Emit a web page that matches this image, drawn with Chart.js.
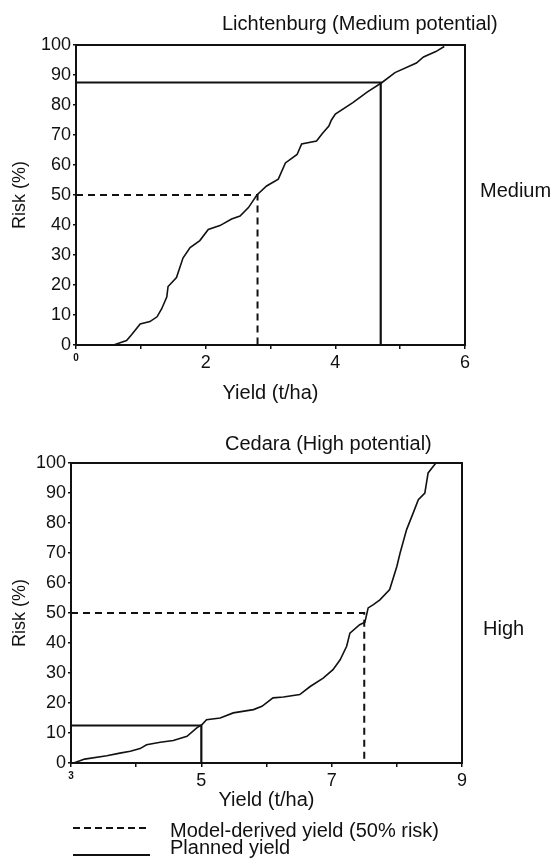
<!DOCTYPE html>
<html>
<head>
<meta charset="utf-8">
<script src="https://cdn.jsdelivr.net/npm/chart.js@4.4.1/dist/chart.umd.min.js"></script>
<style>
  html, body { margin: 0; padding: 0; background: #fff; }
  body { width: 555px; height: 863px; position: relative; overflow: hidden;
         font-family: 'Liberation Sans', Arial, Helvetica, sans-serif; color: #111; }
  canvas { position: absolute; left: 0; }
  .lbl { position: absolute; font-size: 20px; line-height: 24px; white-space: nowrap; color: #111; }
  svg { position: absolute; left: 0; top: 0; }
</style>
</head>
<body>
<canvas id="c1" width="555" height="410" style="top:0px"></canvas>
<canvas id="c2" width="555" height="400" style="top:420px"></canvas>

<div class="lbl" style="left:222px; top:11px;">Lichtenburg (Medium potential)</div>
<div class="lbl" style="left:480px; top:178px;">Medium</div>
<div class="lbl" style="left:225px; top:431px;">Cedara (High potential)</div>
<div class="lbl" style="left:483px; top:616px;">High</div>

<svg width="555" height="863">
  <line x1="73" y1="828" x2="150" y2="828" stroke="#111" stroke-width="2" stroke-dasharray="7 4"></line>
  <line x1="73" y1="855" x2="150" y2="855" stroke="#111" stroke-width="2"></line>
</svg>
<div class="lbl" style="left:170px; top:818px;">Model-derived yield (50% risk)</div>
<div class="lbl" style="left:170px; top:835px;">Planned yield</div>

<script>
// ---------------- DATA ----------------
// Lichtenburg (Medium potential): cumulative risk curve
const licYield = [0.58,0.78,0.86,0.99,1.14,1.25,1.32,1.40,1.42,1.55,1.65,1.76,1.91,2.04,2.22,2.40,2.53,2.66,2.79,2.94,3.12,3.23,3.41,3.48,3.71,3.80,3.90,3.94,4.00,4.27,4.49,4.72,4.92,5.25,5.36,5.55,5.68];
const licRisk  = [0,1.5,3.5,7,7.8,9.4,12,16,19.5,22.5,29,32.5,34.8,38.5,39.8,42,43,45.8,50,53,55.3,60.7,63.5,67,68,70.5,73,75,77,80.8,84.3,87.5,90.8,94,96,97.8,99.5];
const licPlannedX = [0, 4.7, 4.7];
const licPlannedY = [87.5, 87.5, 0];
const licModelX = [0, 2.8, 2.8];
const licModelY = [50, 50, 0];
const licXTicks = [0, 2, 4, 6];

// Cedara (High potential): cumulative risk curve
const cedYield = [3.04,3.21,3.55,3.75,3.91,4.06,4.16,4.37,4.57,4.78,4.93,5.01,5.08,5.29,5.49,5.80,5.93,6.10,6.26,6.51,6.67,6.87,7.02,7.13,7.23,7.28,7.43,7.51,7.56,7.64,7.74,7.89,8.00,8.05,8.15,8.25,8.33,8.43,8.48,8.56,8.60];
const cedRisk  = [0,1.3,2.4,3.3,3.9,4.8,6.1,6.9,7.5,8.9,11.7,12.8,14.4,15,16.7,17.8,18.9,21.7,22,22.8,25.5,28.3,31.1,34.4,38.9,43.3,46.1,46.9,51.7,52.8,54.4,57.8,65.5,70,77.8,83.3,87.8,90,96.7,98.9,100];
const cedPlannedX = [3, 5, 5];
const cedPlannedY = [12.5, 12.5, 0];
const cedModelX = [3, 7.5, 7.5];
const cedModelY = [50, 50, 0];
const cedXTicks = [3, 5, 7, 9];

const riskTicks = [0,10,20,30,40,50,60,70,80,90,100];
const yTitle = 'Risk (%)';
const xTitle = 'Yield (t/ha)';

// ---------------- CHARTS ----------------
Chart.defaults.font.family = "'Liberation Sans', Arial, Helvetica, sans-serif";
Chart.defaults.color = '#111';

const INK = '#111';
const pts = (xs, ys) => xs.map((x, i) => ({x: x, y: ys[i]}));

function makeChart(id, o) {
  const ctx = document.getElementById(id).getContext('2d');
  return new Chart(ctx, {
    type: 'line',
    data: {
      datasets: [
        { data: pts(o.curveX, o.curveY), borderColor: INK, borderWidth: 1.6, pointRadius: 0, tension: 0, xAxisID: 'x', yAxisID: 'y' },
        { data: pts(o.planX, o.planY), borderColor: INK, borderWidth: 2.2, pointRadius: 0, tension: 0, xAxisID: 'x', yAxisID: 'y' },
        { data: pts(o.modX, o.modY), borderColor: INK, borderWidth: 2, borderDash: [7, 5], pointRadius: 0, tension: 0, xAxisID: 'x', yAxisID: 'y' }
      ]
    },
    options: {
      responsive: false,
      animation: false,
      events: [],
      layout: { padding: { left: 0, top: o.padTop, right: o.padRight, bottom: o.padBottom } },
      plugins: { legend: { display: false }, tooltip: { enabled: false }, title: { display: false } },
      scales: {
        x: {
          type: 'linear', position: 'bottom', min: o.xMin, max: o.xMax,
          afterFit: (s) => { s.height = o.xHeight; },
          grid: { display: true, drawOnChartArea: false, drawTicks: true, tickLength: 4, color: INK, lineWidth: 1.5 },
          border: { display: true, color: INK, width: 2 },
          ticks: {
            stepSize: 1, autoSkip: false, maxRotation: 0, padding: 3, color: INK,
            callback: (v) => o.xTicks.includes(v) ? String(v) : '',
            font: (c) => (c.tick && c.tick.value === o.xMin) ? { size: 10, weight: 'bold' } : { size: 18 }
          },
          title: { display: true, text: xTitle, font: { size: 20 }, color: INK, padding: { top: 0, bottom: 0 } }
        },
        y: {
          type: 'linear', position: 'left', min: 0, max: 100,
          afterFit: (s) => { s.width = o.yWidth; },
          grid: { display: true, drawOnChartArea: false, drawTicks: true, tickLength: 3, color: INK, lineWidth: 1.5 },
          border: { display: true, color: INK, width: 2 },
          ticks: {
            stepSize: 10, autoSkip: false, padding: 2, color: INK, font: { size: 18 },
            callback: (v) => riskTicks.includes(v) ? String(v) : ''
          },
          title: { display: true, text: yTitle, font: { size: 18 }, color: INK, padding: { top: 9, bottom: 0 } }
        },
        xTop: {
          type: 'linear', position: 'top', display: true,
          afterFit: (s) => { s.height = 0; },
          grid: { display: false }, ticks: { display: false },
          border: { display: true, color: INK, width: 2 }
        },
        yRight: {
          type: 'linear', position: 'right', display: true,
          afterFit: (s) => { s.width = 0; },
          grid: { display: false }, ticks: { display: false },
          border: { display: true, color: INK, width: 2 }
        }
      }
    }
  });
}

makeChart('c1', {
  curveX: licYield, curveY: licRisk, planX: licPlannedX, planY: licPlannedY,
  modX: licModelX, modY: licModelY, xTicks: licXTicks, xMin: 0, xMax: 6,
  padTop: 45, padRight: 90, padBottom: 5, xHeight: 60, yWidth: 76
});

makeChart('c2', {
  curveX: cedYield, curveY: cedRisk, planX: cedPlannedX, planY: cedPlannedY,
  modX: cedModelX, modY: cedModelY, xTicks: cedXTicks, xMin: 3, xMax: 9,
  padTop: 43, padRight: 93, padBottom: 8, xHeight: 49, yWidth: 71
});
</script>
</body>
</html>
